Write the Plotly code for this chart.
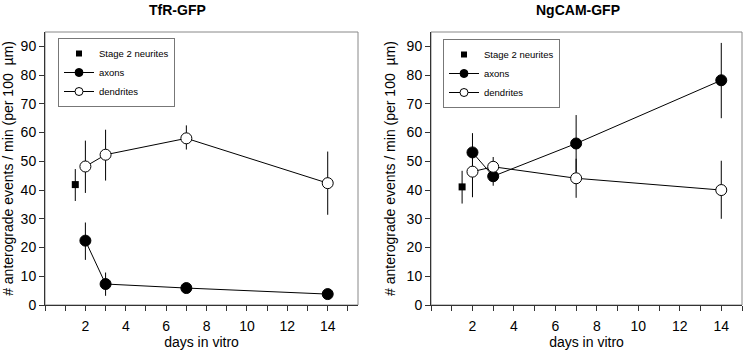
import plotly.graph_objects as go

# ---------------- data ----------------
stage2_x = [1.5]
axon_x = [2, 3, 7, 14]
dend_x = [2, 3, 7, 14]

# TfR-GFP (left)
tfr_stage2 = [41.9]
tfr_stage2_hi = [5.4]
tfr_stage2_lo = [5.7]
tfr_axons = [22.4, 7.3, 5.9, 3.8]
tfr_axons_hi = [6.3, 4.0, 0.0, 0.0]
tfr_axons_lo = [6.7, 4.1, 0.0, 0.0]
tfr_dend = [48.2, 52.3, 58.0, 42.4]
tfr_dend_hi = [9.0, 8.7, 4.5, 11.0]
tfr_dend_lo = [9.2, 9.0, 3.9, 11.0]

# NgCAM-GFP (right)
ng_stage2 = [41.1]
ng_stage2_hi = [5.6]
ng_stage2_lo = [5.8]
ng_axons = [53.1, 44.8, 56.2, 78.2]
ng_axons_hi = [6.7, 3.5, 9.9, 13.0]
ng_axons_lo = [6.7, 3.3, 9.9, 13.2]
ng_dend = [46.4, 48.1, 44.1, 40.0]
ng_dend_hi = [8.9, 3.4, 6.8, 10.2]
ng_dend_lo = [8.9, 3.4, 6.8, 10.0]

x_tickvals = list(range(0, 16))
x_ticktext = [str(v) if (v % 2 == 0 and v > 0) else "" for v in x_tickvals]
y_tickvals = [0, 10, 20, 30, 40, 50, 60, 70, 80, 90]

titles = ["TfR-GFP", "NgCAM-GFP"]
x_title = "days in vitro"
y_title = "# anterograde events / min (per 100  µm)"
legend_names = ["Stage 2 neurites", "axons", "dendrites"]

FONT = "Liberation Sans, Arial, sans-serif"

fig = go.Figure()

def add_panel(idx, s2, s2hi, s2lo, ax, axhi, axlo, de, dehi, delo):
    xa = "x" if idx == 1 else "x2"
    ya = "y" if idx == 1 else "y2"
    leg = "legend" if idx == 1 else "legend2"
    eb = dict(type="data", symmetric=False, thickness=1, width=0, color="black")
    fig.add_trace(go.Scatter(
        x=stage2_x, y=s2, mode="markers", name=legend_names[0],
        marker=dict(symbol="square", size=7, color="black"),
        error_y=dict(eb, array=s2hi, arrayminus=s2lo),
        xaxis=xa, yaxis=ya, showlegend=False))
    fig.add_trace(go.Scatter(
        x=axon_x, y=ax, mode="lines+markers", name=legend_names[1],
        line=dict(color="black", width=1),
        marker=dict(symbol="circle", size=11, color="black",
                    line=dict(color="black", width=1)),
        error_y=dict(eb, array=axhi, arrayminus=axlo),
        xaxis=xa, yaxis=ya, showlegend=False))
    fig.add_trace(go.Scatter(
        x=dend_x, y=de, mode="lines+markers", name=legend_names[2],
        line=dict(color="black", width=1),
        marker=dict(symbol="circle", size=11, color="white",
                    line=dict(color="black", width=1)),
        error_y=dict(eb, array=dehi, arrayminus=delo),
        xaxis=xa, yaxis=ya, showlegend=False))
    # legend entries with smaller symbols (no data drawn)
    fig.add_trace(go.Scatter(
        x=[None], y=[None], mode="markers", name=legend_names[0],
        marker=dict(symbol="square", size=6, color="black"),
        xaxis=xa, yaxis=ya, legend=leg))
    fig.add_trace(go.Scatter(
        x=[None], y=[None], mode="lines+markers", name=legend_names[1],
        line=dict(color="black", width=1),
        marker=dict(symbol="circle", size=8, color="black",
                    line=dict(color="black", width=1)),
        xaxis=xa, yaxis=ya, legend=leg))
    fig.add_trace(go.Scatter(
        x=[None], y=[None], mode="lines+markers", name=legend_names[2],
        line=dict(color="black", width=1),
        marker=dict(symbol="circle", size=8, color="white",
                    line=dict(color="black", width=1)),
        xaxis=xa, yaxis=ya, legend=leg))

add_panel(1, tfr_stage2, tfr_stage2_hi, tfr_stage2_lo, tfr_axons, tfr_axons_hi,
          tfr_axons_lo, tfr_dend, tfr_dend_hi, tfr_dend_lo)
add_panel(2, ng_stage2, ng_stage2_hi, ng_stage2_lo, ng_axons, ng_axons_hi,
          ng_axons_lo, ng_dend, ng_dend_hi, ng_dend_lo)

W, H = 747, 354
ydom = [(H - 305) / H, (H - 32) / H]

def xaxis(dom, rng):
    return dict(domain=dom, range=rng, tickmode="array", tickvals=x_tickvals,
                ticktext=x_ticktext, ticks="outside", ticklen=5, tickwidth=1,
                tickcolor="#333", showline=True, linecolor="#333", linewidth=1,
                showgrid=False, zeroline=False, ticklabelstandoff=3,
                automargin=False,
                tickfont=dict(family=FONT, size=14, color="black"),
                title=dict(text=x_title, standoff=3,
                           font=dict(family=FONT, size=14, color="black")))

def yaxis(anchor, standoff):
    return dict(domain=ydom, range=[0, 95], tickmode="array", tickvals=y_tickvals,
                ticks="outside", ticklen=5, tickwidth=1, tickcolor="#333",
                showline=True, linecolor="#333", linewidth=1, showgrid=False,
                zeroline=False, anchor=anchor, automargin=False,
                tickfont=dict(family=FONT, size=14, color="black"),
                title=dict(text=y_title, standoff=standoff,
                           font=dict(family=FONT, size=14, color="black")))

legend_common = dict(bgcolor="white", bordercolor="#777", borderwidth=1,
                     font=dict(family=FONT, size=9.5, color="black"),
                     xanchor="left", yanchor="top", tracegroupgap=0,
                     itemwidth=30, traceorder="normal")

fig.update_layout(
    width=W, height=H, margin=dict(l=0, r=0, t=0, b=0),
    paper_bgcolor="white", plot_bgcolor="white",
    xaxis=dict(xaxis([45 / W, 358 / W], [0, 15.5]), anchor="y"),
    yaxis=yaxis("x", 3),
    xaxis2=dict(xaxis([431 / W, 742 / W], [0, 15]), anchor="y2"),
    yaxis2=yaxis("x2", 7),
    legend=dict(legend_common, x=58 / W, y=1 - 38 / H),
    legend2=dict(legend_common, x=443 / W, y=1 - 39 / H),
    showlegend=True,
)

# grey frame (top/right) of each panel
for xr, yr in (("x domain", "y domain"), ("x2 domain", "y2 domain")):
    fig.add_shape(type="rect", xref=xr, yref=yr, x0=0, x1=1, y0=0, y1=1,
                  line=dict(color="#888", width=1), layer="below")

for i, (t, cx) in enumerate(zip(titles, [177, 578])):
    fig.add_annotation(text="<b>%s</b>" % t, x=cx / W, y=1 - 10 / H,
                       xref="paper", yref="paper", showarrow=False,
                       xanchor="center", yanchor="middle",
                       font=dict(family=FONT, size=14, color="black"))

fig.write_html("out.html")
